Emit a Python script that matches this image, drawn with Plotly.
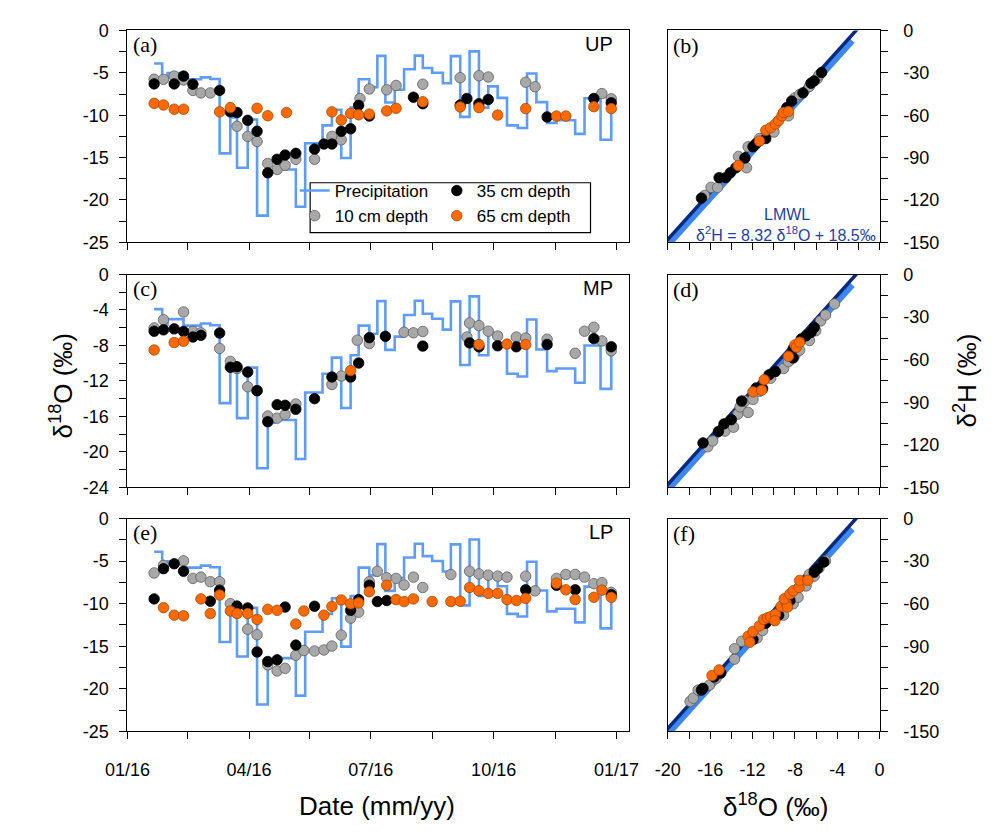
import plotly.graph_objects as go

# ---------------- data ----------------
precip_dates = ["2016-01-21","2016-01-27","2016-01-31","2016-02-12","2016-02-25","2016-03-03","2016-03-10",
                "2016-03-18","2016-03-23","2016-03-31","2016-04-07","2016-04-15","2016-04-20","2016-05-06",
                "2016-05-13","2016-05-26","2016-06-02","2016-06-09","2016-06-16","2016-06-22","2016-06-30",
                "2016-07-06","2016-07-12","2016-07-19","2016-07-26","2016-08-03","2016-08-09","2016-08-16",
                "2016-08-24","2016-08-30","2016-09-06","2016-09-13","2016-09-20","2016-09-27","2016-10-04",
                "2016-10-11","2016-10-19","2016-10-26","2016-11-02","2016-11-10","2016-11-17","2016-12-01",
                "2016-12-08","2016-12-20","2016-12-28"]
precip_d18o = [-3.9,-5.65,-5.03,-5.76,-5.53,-5.72,-14.5,-10.25,-16.2,-10.5,-21.85,-16.7,-16.4,-20.8,-13.3,
               -11.2,-9.37,-15.05,-9.1,-5.76,-6.68,-3.0,-8.5,-7.0,-4.57,-2.96,-4.42,-4.99,-6.22,-3.03,-10.2,
               -2.46,-9.1,-6.6,-7.95,-11.2,-11.5,-5.07,-8.45,-10.9,-10.6,-12.2,-8.0,-12.9,-8.0]

# UP
up10_dates = ["2016-01-21","2016-01-28","2016-02-05","2016-02-12","2016-02-19","2016-02-25","2016-03-03",
              "2016-03-23","2016-03-31","2016-04-07","2016-04-15","2016-04-22","2016-04-28","2016-05-06",
              "2016-05-20","2016-06-02","2016-06-09","2016-06-23","2016-06-30","2016-07-13","2016-07-20",
              "2016-08-09","2016-09-06","2016-09-20","2016-09-27","2016-10-25","2016-11-01","2016-12-21",
              "2016-12-28"]
up10_d18o = [-5.76,-5.76,-5.38,-5.84,-7.07,-7.37,-7.37,-11.3,-12.5,-13.1,-15.7,-16.4,-15.9,-15.2,-15.2,-12.5,
             -12.9,-8.03,-6.9,-7.0,-6.49,-6.34,-5.57,-5.34,-5.49,-6.1,-6.64,-7.45,-8.06]
up35_dates = ["2016-01-21","2016-02-05","2016-02-12","2016-02-19","2016-03-10","2016-03-18","2016-03-23",
              "2016-03-31","2016-04-07","2016-04-15","2016-04-22","2016-04-28","2016-05-06","2016-05-20",
              "2016-05-27","2016-06-02","2016-06-09","2016-06-16","2016-06-22","2016-06-30","2016-08-02",
              "2016-08-09","2016-09-06","2016-09-11","2016-09-20","2016-09-27","2016-11-10","2016-12-15",
              "2016-12-28"]
up35_d18o = [-6.3,-6.3,-5.38,-6.34,-7.07,-9.6,-9.68,-10.6,-11.9,-16.8,-15.2,-14.7,-14.5,-14.0,-13.4,-13.4,
             -11.9,-11.6,-8.83,-10.1,-7.87,-8.64,-8.79,-8.03,-8.64,-8.14,-10.2,-8.03,-8.53]
up65_dates = ["2016-01-21","2016-01-28","2016-02-05","2016-02-12","2016-03-10","2016-03-18","2016-04-07",
              "2016-04-15","2016-04-29","2016-06-02","2016-06-09","2016-06-16","2016-06-22","2016-06-30",
              "2016-07-13","2016-07-20","2016-08-09","2016-09-06","2016-09-20","2016-10-04","2016-10-25",
              "2016-11-17","2016-11-24","2016-12-15","2016-12-28"]
up65_d18o = [-8.6,-8.79,-9.29,-9.29,-9.6,-9.1,-9.18,-10.06,-9.68,-9.6,-10.56,-9.79,-9.95,-9.87,-9.49,-9.18,
             -8.41,-9.02,-9.1,-9.98,-9.22,-10.1,-10.1,-8.99,-9.22]

# MP
mp10_dates = ["2016-01-21","2016-01-28","2016-02-12","2016-02-19","2016-02-25","2016-03-10","2016-03-18",
              "2016-03-23","2016-03-31","2016-04-07","2016-04-15","2016-04-22","2016-04-28","2016-05-06",
              "2016-06-02","2016-06-09","2016-06-21","2016-06-30","2016-07-26","2016-08-02","2016-08-09",
              "2016-09-11","2016-09-13","2016-09-20","2016-09-27","2016-10-04","2016-10-18","2016-10-25",
              "2016-11-10","2016-12-01","2016-12-08","2016-12-15","2016-12-21","2016-12-28"]
mp10_d18o = [-6.02,-5.1,-4.22,-6.42,-6.57,-8.33,-9.8,-10.6,-12.66,-13.1,-15.96,-16.2,-15.8,-14.6,-12.4,
             -11.45,-7.41,-7.78,-6.5,-6.57,-6.42,-7.05,-5.47,-5.76,-6.39,-6.94,-7.05,-7.16,-7.3,-8.88,
             -6.39,-5.95,-7.49,-8.59]
mp35_dates = ["2016-01-21","2016-01-28","2016-02-05","2016-02-12","2016-02-19","2016-02-25","2016-03-10",
              "2016-03-18","2016-03-23","2016-03-31","2016-04-07","2016-04-15","2016-04-22","2016-04-28",
              "2016-05-06","2016-05-20","2016-06-02","2016-06-16","2016-06-22","2016-06-30","2016-07-12",
              "2016-08-09","2016-09-13","2016-09-20","2016-10-04","2016-10-18","2016-11-10","2016-12-15",
              "2016-12-28"]
mp35_d18o = [-6.39,-6.24,-6.13,-6.42,-7.05,-6.86,-6.6,-10.46,-10.4,-11.0,-13.1,-16.6,-14.68,-14.75,-15.2,
             -14.0,-11.56,-11.56,-9.98,-7.12,-6.97,-8.07,-7.71,-8.15,-8.04,-8.15,-7.89,-7.23,-8.15]
mp65_dates = ["2016-01-21","2016-02-05","2016-02-12","2016-06-16","2016-09-20","2016-10-11","2016-10-25"]
mp65_d18o = [-8.51,-7.67,-7.52,-10.83,-7.89,-7.85,-7.89]

# LP
lp10_dates = ["2016-01-21","2016-01-28","2016-02-12","2016-02-19","2016-02-25","2016-03-03","2016-03-10",
              "2016-03-18","2016-03-31","2016-04-07","2016-04-15","2016-04-22","2016-04-28","2016-05-06",
              "2016-05-12","2016-05-20","2016-05-27","2016-06-02","2016-06-09","2016-06-16","2016-06-22",
              "2016-06-30","2016-07-06","2016-07-13","2016-07-20","2016-07-26","2016-08-02","2016-08-09",
              "2016-08-30","2016-09-13","2016-09-20","2016-09-27","2016-10-04","2016-10-11","2016-10-25",
              "2016-11-01","2016-11-17","2016-11-24","2016-12-01","2016-12-08","2016-12-15","2016-12-21",
              "2016-12-28"]
lp10_d18o = [-6.39,-5.5,-4.97,-7.03,-6.88,-7.42,-7.42,-10.0,-13.0,-13.65,-17.2,-17.9,-17.6,-16.06,-15.5,
             -15.56,-15.44,-14.98,-13.7,-11.7,-11.0,-7.42,-6.19,-6.96,-7.03,-7.8,-6.88,-8.1,-6.57,-6.19,
             -6.5,-6.65,-6.77,-6.88,-6.77,-8.49,-7.03,-6.57,-6.57,-6.88,-7.65,-7.53,-8.68]
lp35_dates = ["2016-01-21","2016-01-28","2016-02-05","2016-02-12","2016-03-03","2016-03-10","2016-03-23",
              "2016-03-31","2016-04-07","2016-04-15","2016-04-22","2016-04-28","2016-05-06","2016-05-20",
              "2016-06-16","2016-06-22","2016-06-30","2016-07-06","2016-07-13","2016-10-25","2016-11-17",
              "2016-12-01","2016-12-28"]
lp35_d18o = [-9.44,-5.89,-5.31,-6.19,-9.71,-8.41,-10.28,-10.5,-15.67,-16.8,-16.6,-10.4,-14.87,-10.3,-10.78,
             -9.52,-7.84,-9.75,-9.63,-8.37,-7.84,-8.37,-8.94]
lp65_dates = ["2016-01-28","2016-02-05","2016-02-12","2016-02-25","2016-03-03","2016-03-10","2016-03-18",
              "2016-03-23","2016-03-31","2016-04-07","2016-04-15","2016-04-22","2016-05-06","2016-05-12",
              "2016-05-27","2016-06-02","2016-06-09","2016-06-16","2016-06-22","2016-06-30","2016-07-13",
              "2016-07-20","2016-07-26","2016-08-02","2016-08-16","2016-08-30","2016-09-06","2016-09-13",
              "2016-09-20","2016-09-27","2016-10-04","2016-10-11","2016-10-18","2016-10-25","2016-11-17",
              "2016-11-24","2016-12-01","2016-12-15","2016-12-21","2016-12-28"]
lp65_d18o = [-10.47,-11.35,-11.43,-9.44,-11.16,-8.98,-10.86,-11.16,-11.16,-11.85,-10.67,-10.78,-12.39,
             -10.86,-11.35,-10.32,-9.56,-10.02,-9.9,-8.6,-7.84,-9.52,-9.75,-9.44,-9.75,-9.75,-9.71,-8.1,
             -8.49,-8.79,-8.79,-9.52,-9.63,-9.37,-7.6,-8.37,-9.52,-9.25,-8.41,-9.25]

# dual isotope (d18O, d2H)
up10_o = [-16.53,-15.92,-15.31,-13.33,-12.57,-12.42,-11.35,-9.98,-9.07,-8.61,-8.0,-7.55,-6.63,-5.87,-5.72]
up10_h = [-116.8,-111.1,-111.1,-89.2,-97.2,-82.3,-76.5,-71.9,-58.1,-60.4,-47.7,-45.4,-39.6,-33.9,-31.6]
up35_o = [-16.83,-15.16,-14.55,-14.1,-13.58,-12.72,-11.96,-11.66,-10.75,-8.77,-8.31,-7.24,-6.48,-6.18,-5.48]
up35_h = [-118.7,-104.2,-104.2,-100.7,-97.2,-90.3,-82.3,-80.0,-76.5,-54.6,-50.0,-44.2,-37.3,-35.7,-29.7]
up65_o = [-13.33,-11.35,-10.75,-10.29,-9.84,-9.53,-9.22,-9.07,-8.61]
up65_h = [-95.6,-78.3,-70.7,-68.9,-66.2,-63.8,-60.4,-58.1,-57.4]

mp10_o = [-16.23,-15.77,-14.61,-13.79,-13.39,-13.18,-12.72,-12.42,-11.96,-11.35,-10.29,-9.07,-8.61,-8.0,
          -7.55,-6.63,-6.03,-5.57,-5.11,-4.26]
mp10_h = [-121.4,-117.3,-110.4,-107.6,-98.4,-93.3,-89.2,-97.2,-88.0,-82.3,-73.1,-66.2,-61.5,-56.9,-53.4,
          -46.5,-39.6,-32.7,-28.5,-20.7]
mp35_o = [-16.68,-15.22,-14.7,-14.0,-13.03,-11.66,-11.05,-10.44,-9.84,-8.16,-8.16,-7.4,-6.94,-6.48,-6.18]
mp35_h = [-118.7,-110.6,-105.3,-102.3,-89.2,-80.0,-80.4,-70.7,-68.4,-58.8,-52.3,-45.4,-43.1,-40.8,-37.3]
mp65_o = [-11.96,-11.14,-10.9,-8.61,-8.0,-7.85,-7.55]
mp65_h = [-82.7,-81.6,-74.2,-57.6,-49.6,-51.2,-47.7]

lp10_o = [-17.9,-17.6,-17.14,-16.07,-15.46,-13.7,-13.7,-13.03,-11.57,-11.05,-10.29,-9.07,-8.16,-7.7,-6.94,
          -6.63,-6.18,-5.72,-5.11]
lp10_h = [-128.9,-126.6,-120.9,-117.4,-112.8,-99.1,-91.7,-86.5,-84.2,-78.9,-71.1,-68.1,-60.1,-55.5,-47.5,
          -39.4,-40.6,-34.9,-29.8]
lp35_o = [-16.83,-16.68,-15.62,-15.0,-11.96,-10.75,-9.53,-8.47,-6.18,-5.87,-5.27]
lp35_h = [-120.9,-119.7,-111.7,-108.9,-85.3,-73.8,-68.1,-57.8,-37.8,-35.3,-30.7]
lp65_o = [-15.83,-15.16,-12.42,-12.26,-11.96,-11.35,-10.96,-10.59,-10.29,-9.84,-9.89,-9.31,-8.83,-8.7,
          -9.01,-8.47,-8.16,-7.61,-7.55,-6.78]
lp65_h = [-110.6,-106.7,-83.0,-87.2,-79.6,-75.7,-71.1,-70.0,-69.3,-67.4,-72.0,-61.9,-59.6,-62.4,-56.6,
          -53.2,-50.9,-48.6,-43.6,-43.6]

# water lines: slope, intercept, d18O end points
lmwl = dict(slope=8.32, intercept=18.5, x=[-20.5, -2.0])
band = dict(slope=8.3, intercept=14.5, x=[-20.5, -2.6])

date_tickvals = ["2016-01-01", "2016-04-01", "2016-07-01", "2016-10-01", "2017-01-01"]
date_ticktext = ["01/16", "04/16", "07/16", "10/16", "01/17"]
date_minor = ["2016-02-15", "2016-05-16", "2016-08-16", "2016-11-16"]
y25_vals = [0, -5, -10, -15, -20, -25]
y25_text = ["0", "-5", "-10", "-15", "-20", "-25"]
y24_vals = [0, -4, -8, -12, -16, -20, -24]
y24_text = ["0", "-4", "-8", "-12", "-16", "-20", "-24"]
o_vals = [-20, -16, -12, -8, -4, 0]
o_text = ["-20", "-16", "-12", "-8", "-4", "0"]
h_vals = [0, -30, -60, -90, -120, -150]
h_text = ["0", "-30", "-60", "-90", "-120", "-150"]

# ---------------- styling ----------------
W, H = 994, 837
FONT = "Liberation Sans, Arial, sans-serif"
SERIF = "Liberation Serif, Times New Roman, serif"
PRECIP_C = "#5E9CF7"
GRAY = dict(color="#A8A8A8", size=10.5, line=dict(color="#5E5E5E", width=0.8))
BLACK = dict(color="#000000", size=10.5, line=dict(color="#000000", width=0.8))
ORANGE = dict(color="#FF6A00", size=10.5, line=dict(color="#A84600", width=0.8))

def hx(p):
    return p / W

def vy(p):
    return 1 - p / H

rows = [(21, 238), (271, 489), (521, 739)]
LX = (108, 627)
RX = (667, 886)

fig = go.Figure()

left_sets = [
    ("UP", up10_dates, up10_d18o, up35_dates, up35_d18o, up65_dates, up65_d18o),
    ("MP", mp10_dates, mp10_d18o, mp35_dates, mp35_d18o, mp65_dates, mp65_d18o),
    ("LP", lp10_dates, lp10_d18o, lp35_dates, lp35_d18o, lp65_dates, lp65_d18o),
]
right_sets = [
    (up10_o, up10_h, up35_o, up35_h, up65_o, up65_h),
    (mp10_o, mp10_h, mp35_o, mp35_h, mp65_o, mp65_h),
    (lp10_o, lp10_h, lp35_o, lp35_h, lp65_o, lp65_h),
]

for i in range(3):
    xl = "x" if i == 0 else f"x{2*i+1}"
    yl = "y" if i == 0 else f"y{2*i+1}"
    xr = f"x{2*i+2}"
    yr = f"y{2*i+2}"
    first = (i == 0)
    name, d10, v10, d35, v35, d65, v65 = left_sets[i]
    fig.add_trace(go.Scatter(x=precip_dates, y=precip_d18o, mode="lines", line_shape="hv",
                             line=dict(color=PRECIP_C, width=2.6), name="Precipitation",
                             xaxis=xl, yaxis=yl, showlegend=first, legend="legend"))
    fig.add_trace(go.Scatter(x=d10, y=v10, mode="markers", marker=GRAY, name="10 cm depth",
                             xaxis=xl, yaxis=yl, showlegend=first, legend="legend"))
    fig.add_trace(go.Scatter(x=d35, y=v35, mode="markers", marker=BLACK, name="35 cm depth",
                             xaxis=xl, yaxis=yl, showlegend=first, legend="legend2"))
    fig.add_trace(go.Scatter(x=d65, y=v65, mode="markers", marker=ORANGE, name="65 cm depth",
                             xaxis=xl, yaxis=yl, showlegend=first, legend="legend2"))

    o10, h10, o35, h35, o65, h65 = right_sets[i]
    bx = band["x"]
    fig.add_trace(go.Scatter(x=bx, y=[band["slope"] * v + band["intercept"] for v in bx], mode="lines",
                             line=dict(color="#3E87F2", width=7), xaxis=xr, yaxis=yr, showlegend=False))
    lx = lmwl["x"]
    fig.add_trace(go.Scatter(x=lx, y=[lmwl["slope"] * v + lmwl["intercept"] for v in lx], mode="lines",
                             line=dict(color="#082A7C", width=3.5), xaxis=xr, yaxis=yr, showlegend=False))
    fig.add_trace(go.Scatter(x=o10, y=h10, mode="markers", marker=GRAY, xaxis=xr, yaxis=yr, showlegend=False))
    fig.add_trace(go.Scatter(x=o35, y=h35, mode="markers", marker=BLACK, xaxis=xr, yaxis=yr, showlegend=False))
    fig.add_trace(go.Scatter(x=o65, y=h65, mode="markers", marker=ORANGE, xaxis=xr, yaxis=yr, showlegend=False))

axis_common = dict(showline=True, linecolor="black", linewidth=1.3, mirror=True, ticks="outside",
                   ticklen=7, tickwidth=1.3, tickcolor="black", showgrid=False, zeroline=False,
                   tickfont=dict(family=FONT, size=18, color="black"))

layout = dict(width=W, height=H, margin=dict(l=0, r=0, t=0, b=0), plot_bgcolor="white",
              paper_bgcolor="white", font=dict(family=FONT, color="black"))

for i in range(3):
    top, bot = rows[i]
    xk = "xaxis" if i == 0 else f"xaxis{2*i+1}"
    yk = "yaxis" if i == 0 else f"yaxis{2*i+1}"
    xrk = f"xaxis{2*i+2}"
    yrk = f"yaxis{2*i+2}"
    xa = "x" if i == 0 else f"x{2*i+1}"
    ya = "y" if i == 0 else f"y{2*i+1}"
    last = (i == 2)
    yv, yt, yr_, ym = (y24_vals, y24_text, [-24, 0], 2) if i == 1 else (y25_vals, y25_text, [-25, 0], 2.5)
    layout[xk] = dict(axis_common, domain=[hx(LX[0]), hx(LX[1])], anchor=ya, type="date",
                      range=["2016-01-01", "2017-01-10 10:00"], tickmode="array",
                      tickvals=date_tickvals, ticktext=date_ticktext, showticklabels=last,
                      ticklabelstandoff=15,
                      minor=dict(tickmode="array", tickvals=date_minor, ticks="outside", ticklen=7,
                                 tickwidth=1.3, tickcolor="black", showgrid=False))
    layout[yk] = dict(axis_common, domain=[vy(bot), vy(top)], anchor=xa, range=yr_, tickmode="array",
                      tickvals=yv, ticktext=yt, ticklabelstandoff=7,
                      minor=dict(tickmode="linear", tick0=0, dtick=ym, ticks="outside", ticklen=7,
                                 tickwidth=1.3, tickcolor="black", showgrid=False))
    layout[xrk] = dict(axis_common, domain=[hx(RX[0]), hx(RX[1])], anchor=f"y{2*i+2}", range=[-20, 0],
                       tickmode="array", tickvals=o_vals, ticktext=o_text, showticklabels=last,
                       ticklabelstandoff=15,
                       minor=dict(tickmode="linear", tick0=0, dtick=2, ticks="outside", ticklen=7,
                                  tickwidth=1.3, tickcolor="black", showgrid=False))
    layout[yrk] = dict(axis_common, domain=[vy(bot), vy(top)], anchor=f"x{2*i+2}", side="right",
                       range=[-150, 0], tickmode="array", tickvals=h_vals, ticktext=h_text,
                       ticklabelstandoff=12,
                       minor=dict(tickmode="linear", tick0=0, dtick=15, ticks="outside", ticklen=7,
                                  tickwidth=1.3, tickcolor="black", showgrid=False))

layout["legend"] = dict(x=hx(281), y=vy(167), xanchor="left", yanchor="top", bgcolor="rgba(0,0,0,0)",
                        borderwidth=0, font=dict(family=FONT, size=17, color="black"), tracegroupgap=0,
                        itemwidth=30)
layout["legend2"] = dict(x=hx(428), y=vy(167), xanchor="left", yanchor="top", bgcolor="rgba(0,0,0,0)",
                         borderwidth=0, font=dict(family=FONT, size=17, color="black"), tracegroupgap=0,
                         itemwidth=30)
layout["shapes"] = [dict(type="rect", xref="paper", yref="paper", x0=hx(297), x1=hx(587), y0=vy(228),
                         y1=vy(177), fillcolor="white", line=dict(color="black", width=1.2), layer="above")]

ann = []
labels_left = ["(a)", "(c)", "(e)"]
labels_right = ["(b)", "(d)", "(f)"]
sites = ["UP", "MP", "LP"]

def note(text, x, y, size, family=FONT, color="black", xanchor="center", angle=0):
    return dict(text=text, x=hx(x), y=vy(y), xref="paper", yref="paper", xanchor=xanchor,
                yanchor="middle", showarrow=False, textangle=angle,
                font=dict(family=family, size=size, color=color))

for i in range(3):
    top = rows[i][0]
    ann.append(note(labels_left[i], 112, top + 14, 22, SERIF, xanchor="left"))
    ann.append(note(labels_right[i], 670, top + 15, 22, SERIF, xanchor="left"))
    ann.append(note(sites[i], 612, top + 14, 20, xanchor="right"))

ann += [
    note("LMWL", 790, 209, 16, color="#1F3FA3"),
    note("δ<sup>2</sup>H = 8.32 δ<sup>18</sup>O + 18.5‰", 789, 229, 16, color="#1F3FA3"),
    note("δ<sup>18</sup>O (‰)", 40, 385, 26, angle=-90),
    note("δ<sup>2</sup>H (‰)", 975, 380, 26, angle=-90),
    note("Date (mm/yy)", 366, 815, 26),
    note("δ<sup>18</sup>O (‰)", 778, 815, 26),
]
layout["annotations"] = ann

fig.update_layout(layout)
fig.write_html("out.html")
